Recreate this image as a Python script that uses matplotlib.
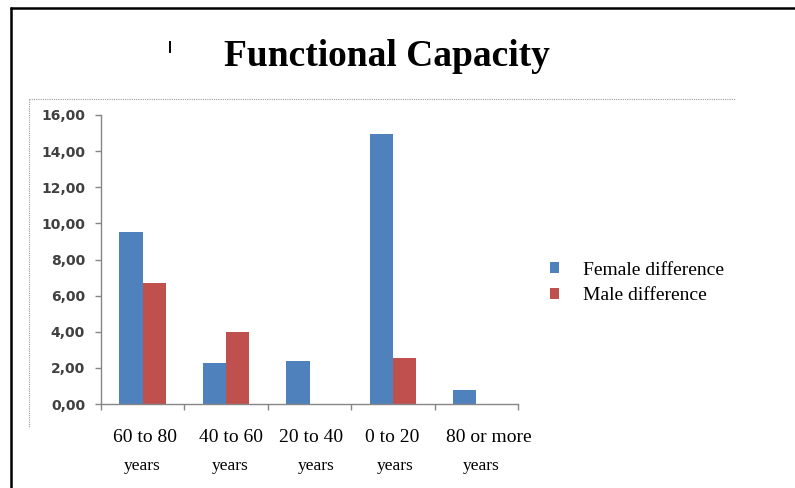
import matplotlib.pyplot as plt
from matplotlib.lines import Line2D
from matplotlib.ticker import FuncFormatter
import numpy as np

age_groups = ["60 to 80", "40 to 60", "20 to 40", "0 to 20", "80 or more"]
female_diff = [9.55, 2.25, 2.40, 14.95, 0.75]
male_diff = [6.70, 4.00, 0.0, 2.55, 0.0]

BLUE = "#4F81BD"
RED = "#C0504D"
AXIS_GRAY = "#868686"
SERIF = "Liberation Serif"

W, H = 795, 488
fig = plt.figure(figsize=(W / 100, H / 100), dpi=100)


def fx(px):
    return px / W


def fy(py):
    return 1 - py / H


ax = fig.add_axes([fx(101), fy(404), fx(518) - fx(101), fy(115) - fy(404)])

x = np.arange(len(age_groups))
bw = 0.28
female_bars = ax.bar(x - bw / 2, female_diff, bw, color=BLUE, label="Female difference")
male_bars = ax.bar(x + bw / 2, male_diff, bw, color=RED, label="Male difference")

ax.set_xlim(-0.5, len(age_groups) - 0.5)
ax.set_ylim(0, 16)
ax.set_yticks(np.arange(0, 17, 2))
ax.yaxis.set_major_formatter(FuncFormatter(lambda v, _: f"{v:.2f}".replace(".", ",")))
ax.set_xticks(np.arange(len(age_groups) + 1) - 0.5)
ax.set_xticklabels([])

for side in ("top", "right"):
    ax.spines[side].set_visible(False)
for side in ("left", "bottom"):
    ax.spines[side].set_color(AXIS_GRAY)
    ax.spines[side].set_linewidth(1.0)
ax.tick_params(axis="both", direction="out", length=4, width=1, color=AXIS_GRAY)
ax.tick_params(axis="y", labelsize=10, labelcolor="#404040", pad=7.5)
for lbl in ax.get_yticklabels():
    lbl.set_fontfamily("DejaVu Sans")
    lbl.set_fontweight("bold")

# two-line category labels under the axis
label_shift = [2, 5, 2, -1, 13]
years_shift = [-1, 4, 7, 2, 5]
for i, name in enumerate(age_groups):
    cx = ax.transData.transform((x[i], 0))[0] / fig.dpi / fig.get_figwidth()
    fig.text(cx + fx(label_shift[i]), fy(437), name, ha="center", va="center",
             fontsize=14, family=SERIF)
    fig.text(cx + fx(years_shift[i]), fy(466), "years", ha="center", va="center",
             fontsize=12.5, family=SERIF)

fig.legend(handles=[female_bars, male_bars], loc="upper left",
           bbox_to_anchor=(fx(540), fy(252)), frameon=False,
           prop={"family": SERIF, "size": 14}, handlelength=0.5, handleheight=0.5,
           handletextpad=1.2, labelspacing=0.45, borderpad=0)

fig.text(fx(387), fy(57), "Functional Capacity", ha="center", va="center",
         fontsize=27, fontweight="bold", family=SERIF)

# dotted plot-area outline and outer frame
fig.add_artist(Line2D([fx(29), fx(735)], [fy(99), fy(99)], color="#999999",
                      linestyle=(0, (1, 1)), linewidth=0.8))
fig.add_artist(Line2D([fx(29), fx(29)], [fy(99), fy(428)], color="#999999",
                      linestyle=(0, (1, 1)), linewidth=0.8))
fig.add_artist(Line2D([fx(10), fx(795)], [fy(7.5), fy(7.5)], color="black",
                      linewidth=1.8, solid_capstyle="butt"))
fig.add_artist(Line2D([fx(10.5), fx(10.5)], [fy(7), fy(488)], color="black",
                      linewidth=1.8, solid_capstyle="butt"))
fig.add_artist(Line2D([fx(170), fx(170)], [fy(42), fy(52)], color="black", linewidth=1.4))

fig.savefig("out.png", dpi=100)
